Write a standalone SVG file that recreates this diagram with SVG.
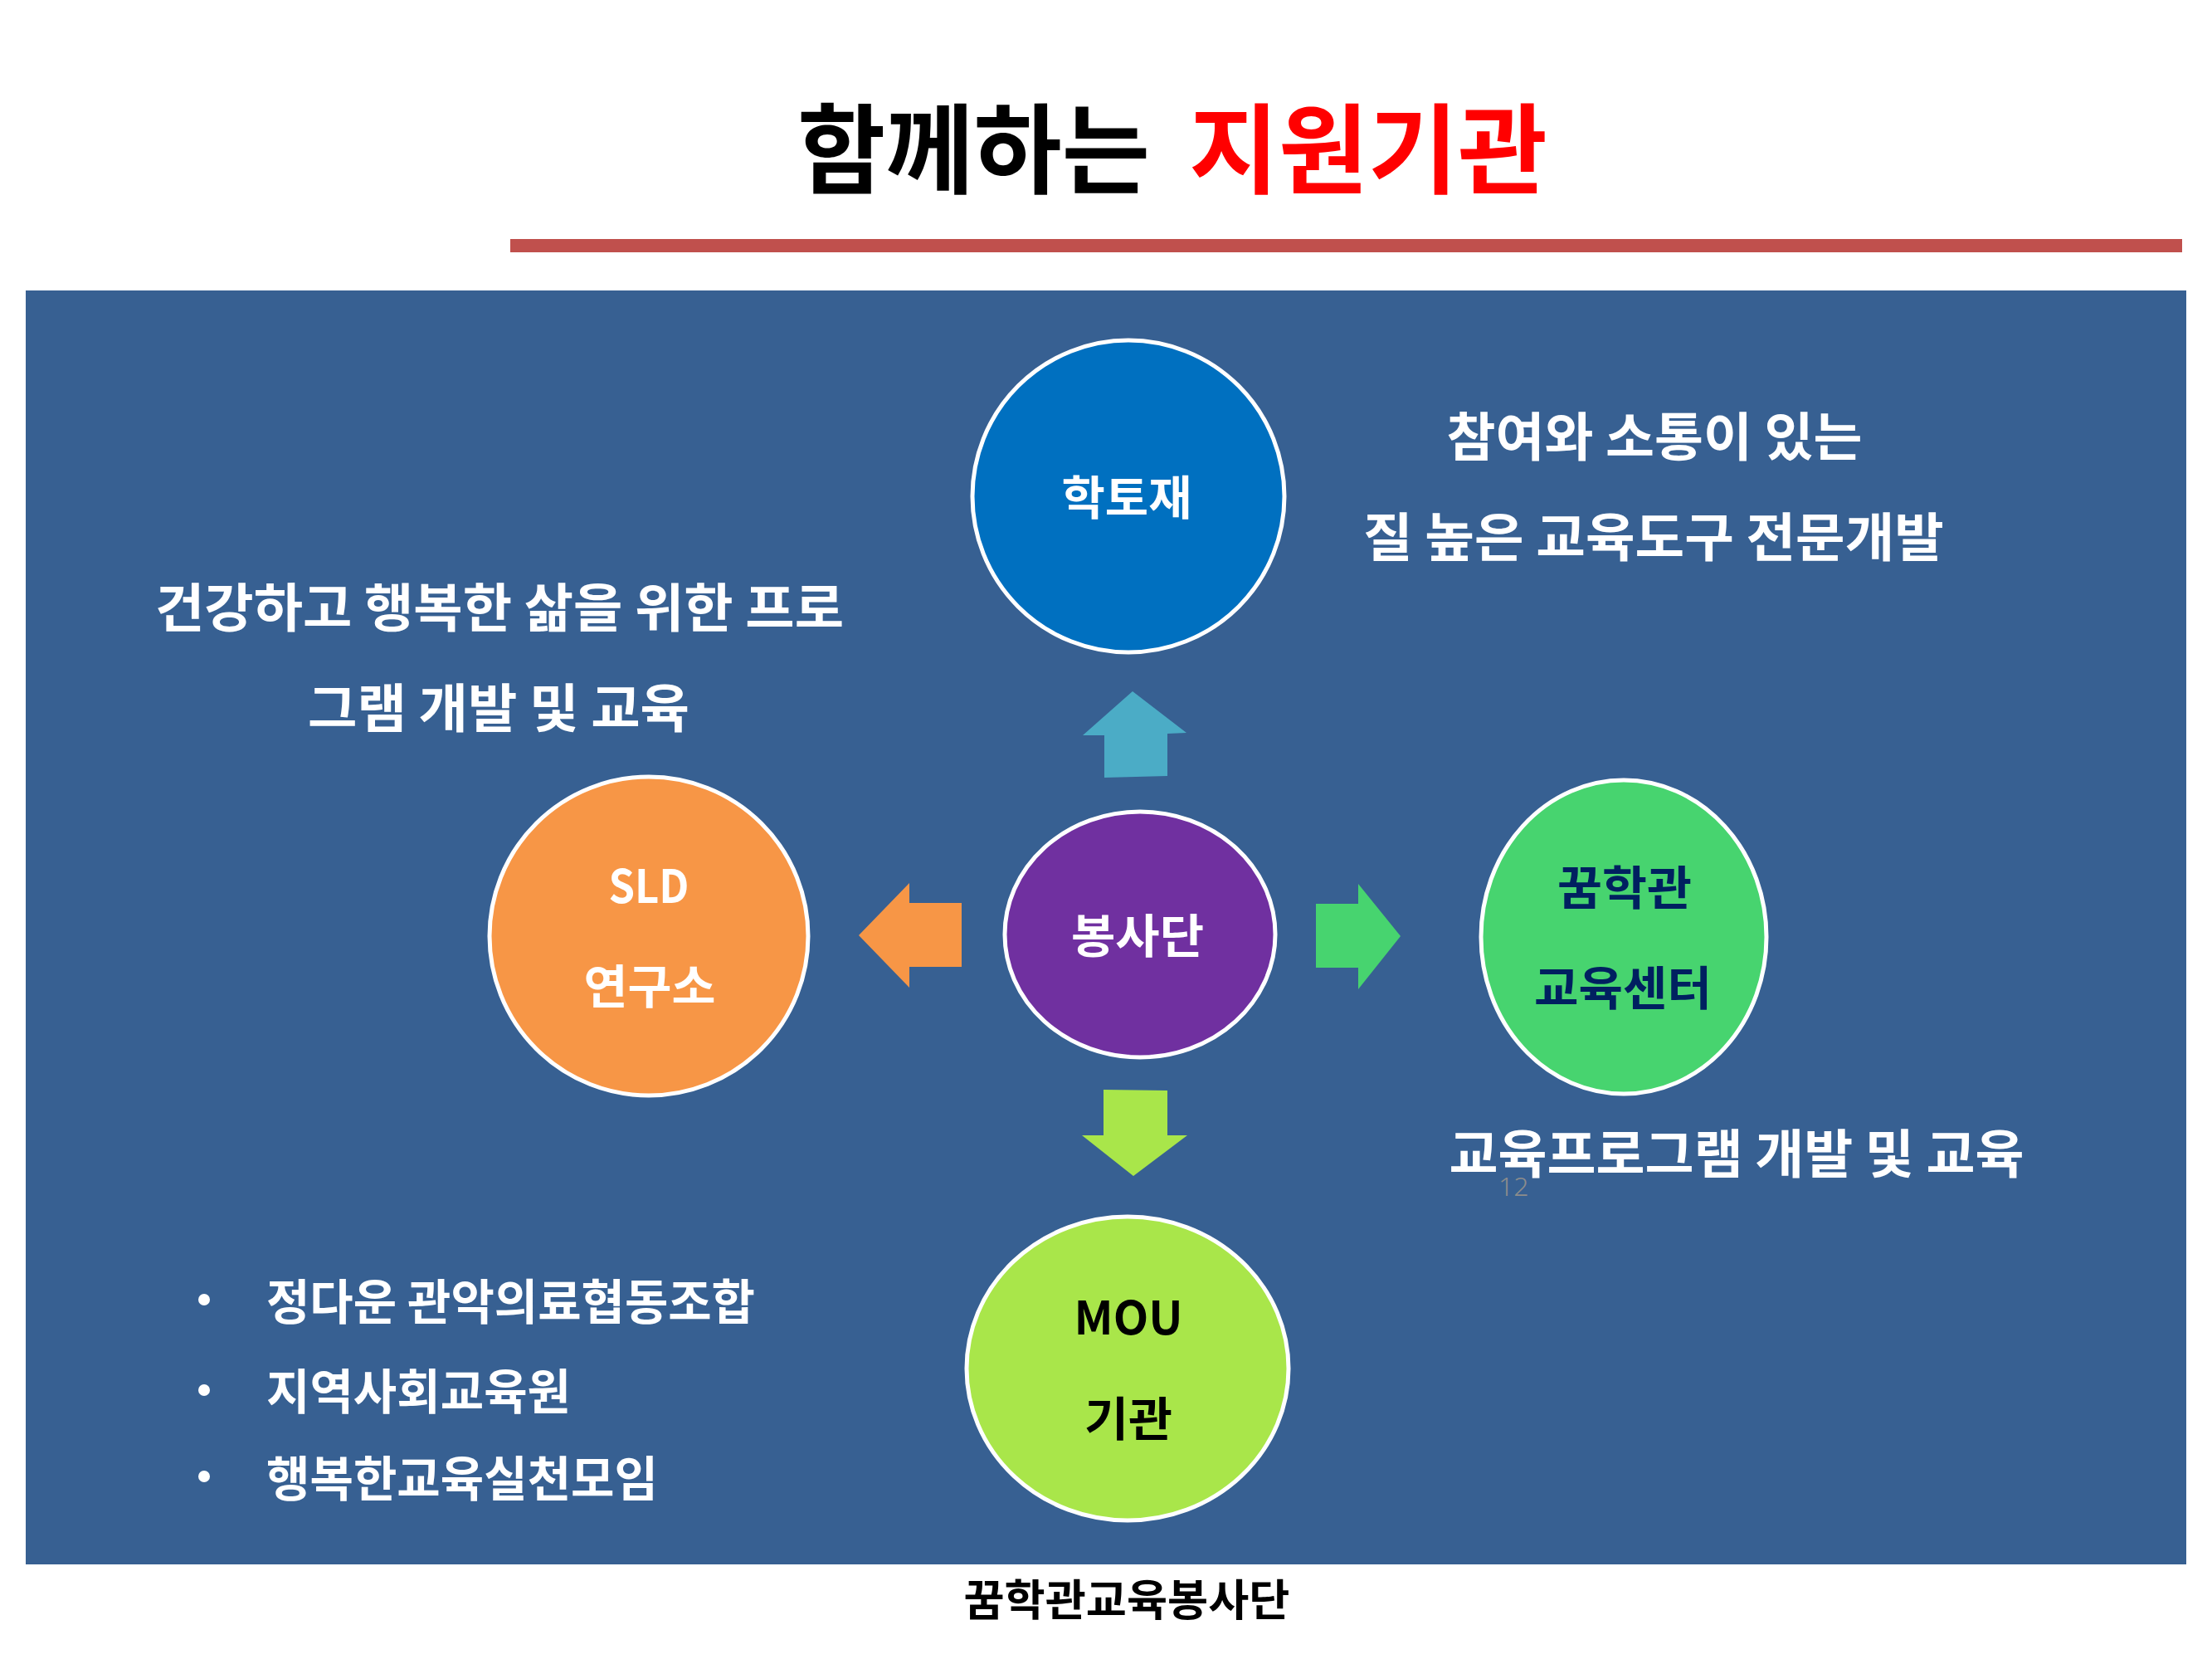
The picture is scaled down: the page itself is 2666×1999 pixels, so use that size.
<svg xmlns="http://www.w3.org/2000/svg" width="2666" height="1999" viewBox="0 0 2666 1999">
<style>
.k{font-family:"Noto Sans CJK KR","Noto Sans",sans-serif;font-weight:700}
.w{fill:#ffffff}
.ring{stroke:#ffffff;stroke-width:5}
.side{font-size:63px}
.lab{font-size:56px}
.bul{font-size:58px}
</style>
<rect width="2666" height="1999" fill="#ffffff"/>
<g id="title">
<text class="k" x="961" y="224" font-size="118" font-weight="900" fill="#000000" textLength="425" lengthAdjust="spacingAndGlyphs">함께하는</text>
<text class="k" x="1433" y="224" font-size="118" font-weight="900" fill="#ff0000" textLength="432" lengthAdjust="spacingAndGlyphs">지원기관</text>
<rect x="615" y="288" width="2015" height="16" fill="#c0504d"/>
</g>
<rect id="panel" x="31" y="350" width="2604" height="1535" fill="#376092"/>
<g id="connectors">
<polygon points="1365,833 1430,883 1407,884 1407,935 1331,937 1331,886 1305,886" fill="#4bacc6"/>
<polygon points="1035,1127 1096,1064 1096,1088 1159,1088 1159,1165 1096,1165 1096,1190" fill="#f79646"/>
<polygon points="1688,1128 1637,1065 1637,1089 1586,1089 1586,1166 1637,1166 1637,1192" fill="#47d46f"/>
<polygon points="1366,1417 1431,1368 1407,1368 1407,1314 1330,1313 1330,1368 1304,1368" fill="#a9e64a"/>
</g>
<g id="node-haktoje">
<circle class="ring" cx="1360" cy="598" r="188" fill="#0070c0"/>
<text class="k lab w" x="1358" y="620" text-anchor="middle" textLength="157" lengthAdjust="spacingAndGlyphs">학토재</text>
</g>
<g id="node-bongsadan">
<ellipse class="ring" cx="1374" cy="1126" rx="163" ry="148" fill="#7030a0"/>
<text class="k lab w" x="1371" y="1148" text-anchor="middle" textLength="160" lengthAdjust="spacingAndGlyphs">봉사단</text>
</g>
<g id="node-sld">
<circle class="ring" cx="782" cy="1128" r="192" fill="#f79646"/>
<text class="k lab w" x="782" y="1088" text-anchor="middle" textLength="97" lengthAdjust="spacingAndGlyphs">SLD</text>
<text class="k lab w" x="783" y="1209" text-anchor="middle" textLength="159" lengthAdjust="spacingAndGlyphs">연구소</text>
</g>
<g id="node-center">
<ellipse class="ring" cx="1957" cy="1129" rx="172" ry="189" fill="#47d46f"/>
<text class="k lab" x="1958" y="1090" fill="#002060" text-anchor="middle" textLength="162" lengthAdjust="spacingAndGlyphs">꿈학관</text>
<text class="k lab" x="1956" y="1211" fill="#002060" text-anchor="middle" textLength="214" lengthAdjust="spacingAndGlyphs">교육센터</text>
</g>
<g id="node-mou">
<ellipse class="ring" cx="1359" cy="1649" rx="194" ry="183" fill="#a9e64a"/>
<text class="k lab" x="1360" y="1608" fill="#000000" text-anchor="middle" textLength="131" lengthAdjust="spacingAndGlyphs">MOU</text>
<text class="k lab" x="1360" y="1730" fill="#000000" text-anchor="middle" textLength="106" lengthAdjust="spacingAndGlyphs">기관</text>
</g>
<g id="text-haktoje">
<text class="k side w" x="1994" y="549" text-anchor="middle" textLength="501" lengthAdjust="spacingAndGlyphs">참여와 소통이 있는</text>
<text class="k side w" x="1993" y="670" text-anchor="middle" textLength="700" lengthAdjust="spacingAndGlyphs">질 높은 교육도구 전문개발</text>
</g>
<g id="text-sld">
<text class="k side w" x="602" y="755" text-anchor="middle" textLength="830" lengthAdjust="spacingAndGlyphs">건강하고 행복한 삶을 위한 프로</text>
<text class="k side w" x="601" y="876" text-anchor="middle" textLength="460" lengthAdjust="spacingAndGlyphs">그램 개발 및 교육</text>
</g>
<g id="text-center">
<text class="k side w" x="2093" y="1413" text-anchor="middle" textLength="693" lengthAdjust="spacingAndGlyphs">교육프로그램 개발 및 교육</text>
<text x="1806" y="1441" font-family="'Noto Sans','Noto Sans CJK KR',sans-serif" font-weight="300" font-size="32" fill="#8c8c8c">12</text>
</g>
<g id="text-mou">
<circle class="w" cx="246" cy="1566" r="7"/>
<circle class="w" cx="246" cy="1675" r="7"/>
<circle class="w" cx="246" cy="1779" r="7"/>
<text class="k bul w" x="321" y="1590" textLength="589" lengthAdjust="spacingAndGlyphs">정다운 관악의료협동조합</text>
<text class="k bul w" x="321" y="1698" textLength="367" lengthAdjust="spacingAndGlyphs">지역사회교육원</text>
<text class="k bul w" x="321" y="1803" textLength="472" lengthAdjust="spacingAndGlyphs">행복한교육실천모임</text>
</g>
<g id="footer">
<text class="k" x="1358" y="1947" font-size="52" fill="#000000" text-anchor="middle" textLength="393" lengthAdjust="spacingAndGlyphs">꿈학관교육봉사단</text>
</g>
</svg>
